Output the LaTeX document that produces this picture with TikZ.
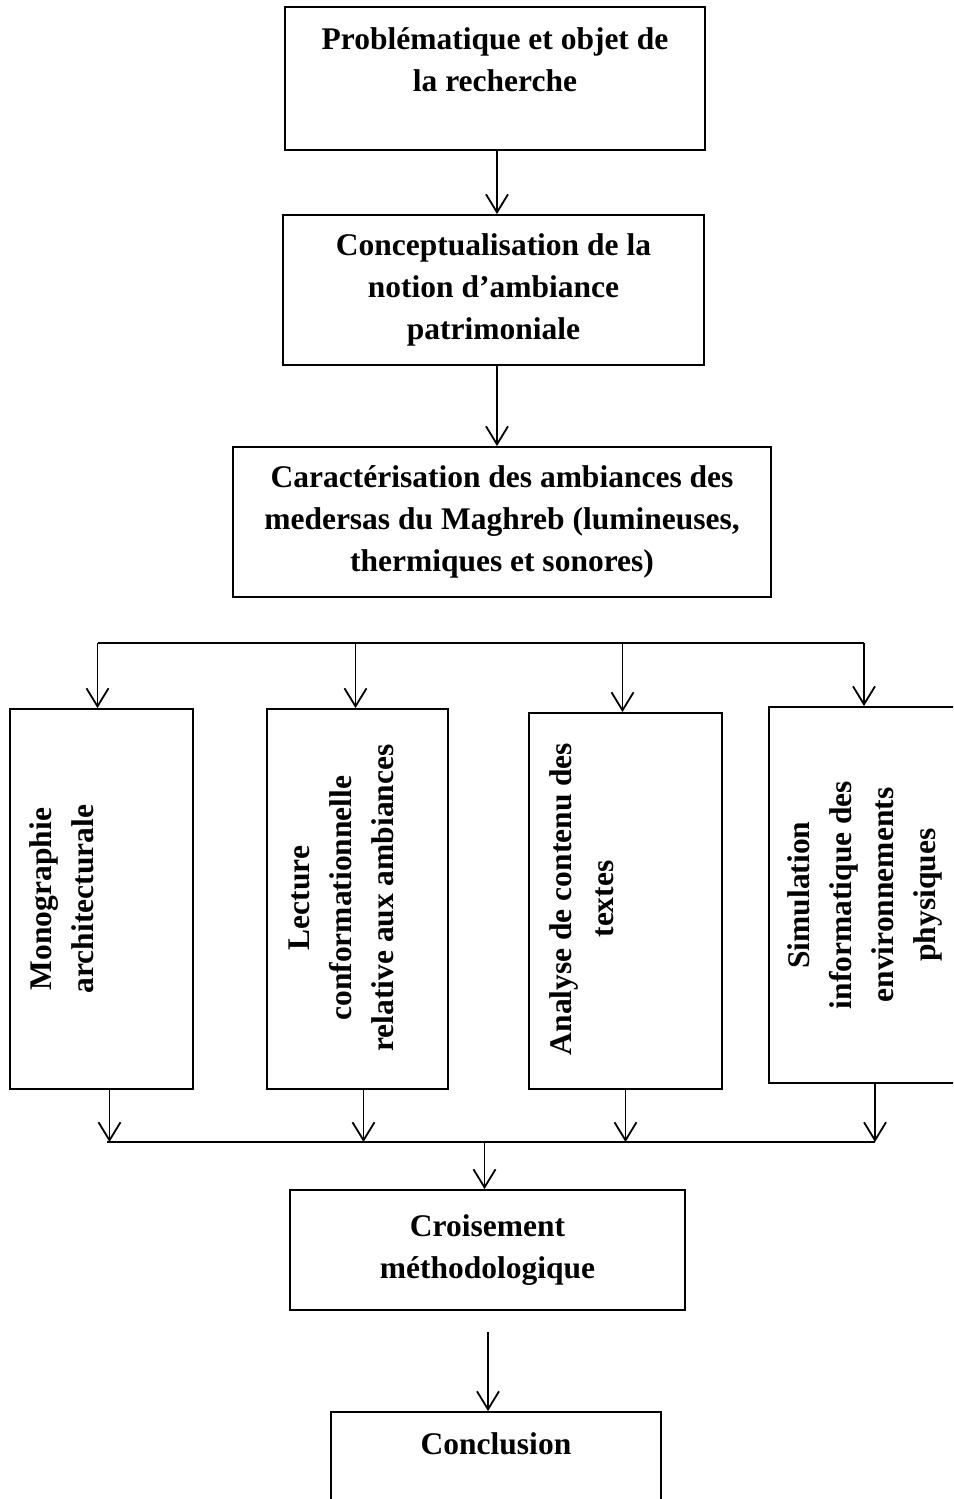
\documentclass[tikz,border=0pt]{standalone}
\usepackage{fontspec}
\setmainfont{Liberation Serif}
\usetikzlibrary{positioning,arrows.meta}
\tikzset{
  stage/.style={draw, line width=1.9pt, inner sep=0pt, align=center, font=\fontsize{31.5}{42}\selectfont\bfseries},
  txt/.style={inner sep=0pt, align=center, font=\fontsize{31.5}{42}\selectfont\bfseries},
  vtxt/.style={txt, rotate=90},
  arrow/.style={-{Straight Barb[length=18pt,width=22pt,line width=1.8pt]}, line width=1.8pt},
  bar/.style={line width=1.9pt}
}
\begin{document}
\begin{tikzpicture}[x=1pt,y=-1pt]
  \clip (0,0) rectangle (953,1499);
  % main chain
  \node[stage, minimum width=420, minimum height=143] (prob) at (495,78.5) {};
  \node[txt] (probtxt) at (495,60) {Problématique et objet de\\la recherche};
  \node[stage, minimum width=421, minimum height=150] (concept) at (493.5,290) {Conceptualisation de la\\notion d’ambiance\\patrimoniale};
  \node[stage, minimum width=538, minimum height=150] (caract) at (502,522) {Caractérisation des ambiances des\\medersas du Maghreb (lumineuses,\\thermiques et sonores)};
  \coordinate (fork) at (0,643);
  % the four approaches
  \node[stage, minimum width=183, minimum height=380] (mono) at (101.5,899) {};
  \node[vtxt] (monotxt) at (62,899) {Monographie\\architecturale};
  \node[stage, minimum width=181, minimum height=380] (lect) at (357.5,899) {};
  \node[vtxt] (lecttxt) at (341,898) {Lecture\\conformationnelle\\relative aux ambiances};
  \node[stage, minimum width=193, minimum height=376] (anal) at (625.5,901) {};
  \node[vtxt] (analtxt) at (582,899) {Analyse de contenu des\\textes};
  \node[stage, minimum width=200, minimum height=376] (simu) at (869,895) {};
  \node[vtxt] (simutxt) at (865,895) {Simulation\\informatique des\\environnements\\physiques};
  \coordinate (join) at (0,1142);
  \node[stage, minimum width=395, minimum height=120] (crois) at (487.5,1250) {Croisement\\méthodologique};
  \coordinate (gap) at (488,1332);
  \node[stage, minimum width=330, minimum height=120] (conc) at (496,1472) {};
  \node[txt] (conctxt) at (496,1444) {Conclusion};
  % connectors
  \draw[arrow] ([xshift=2]prob.south) -- ([xshift=2]prob.south |- concept.north);
  \draw[arrow] ([xshift=3.5]concept.south) -- ([xshift=3.5]concept.south |- caract.north);
  \draw[bar] ([xshift=-4]mono.north |- fork) -- ([xshift=-5]simu.north |- fork);
  \foreach \b/\dx in {mono/-4, lect/-2, anal/-3, simu/-5}
    \draw[arrow] ([xshift=\dx]\b.north |- fork) -- ([xshift=\dx]\b.north);
  \foreach \b/\dx in {mono/8, lect/6, anal/0, simu/6}
    \draw[arrow] ([xshift=\dx]\b.south) -- ([xshift=\dx]\b.south |- join);
  \draw[bar] ([xshift=5]mono.south |- join) -- ([xshift=6]simu.south |- join);
  \draw[arrow] ([xshift=-3]crois.north |- join) -- ([xshift=-3]crois.north);
  \draw[arrow] (gap) -- (gap |- conc.north);
\end{tikzpicture}
\end{document}
